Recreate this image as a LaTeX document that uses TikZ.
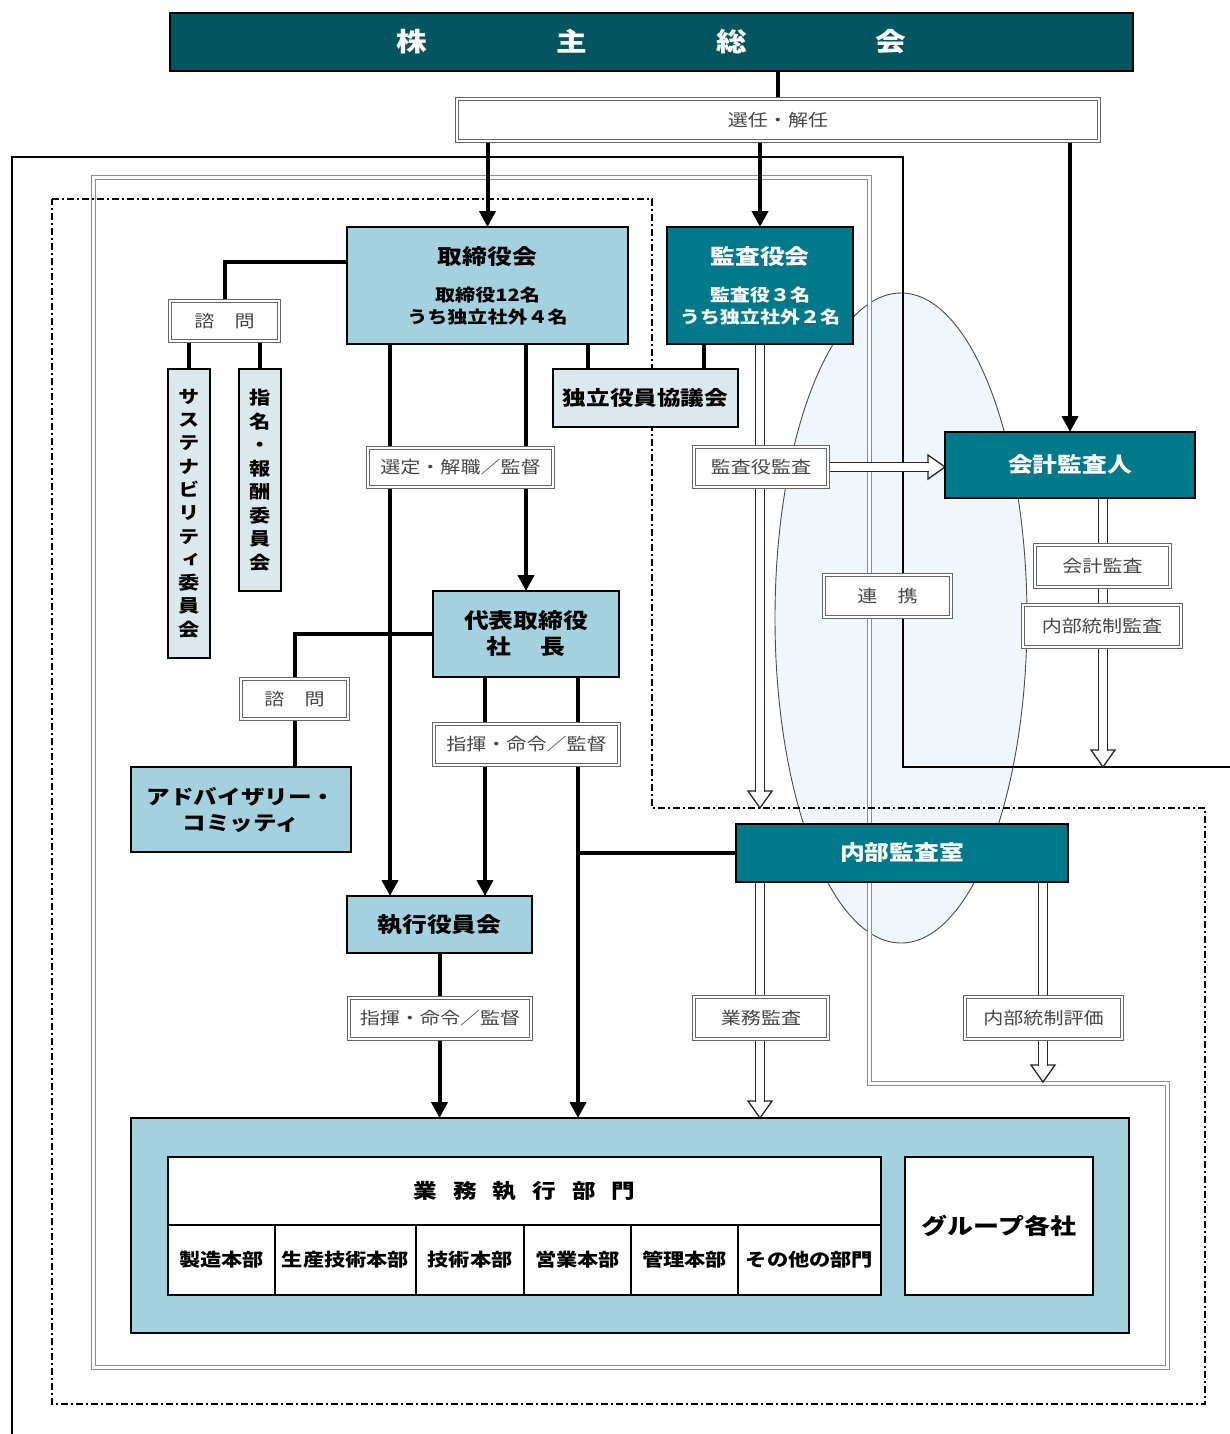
\documentclass[tikz,border=0pt]{standalone}
\usepackage{fontspec}
\setmainfont{Noto Sans CJK JP}[FakeStretch=1.18]
\newfontfamily\vjp{Noto Sans CJK JP}[FakeStretch=1.18,RawFeature=+vert]
\usetikzlibrary{arrows.meta,calc}
\definecolor{kabuC}{RGB}{3,86,95}
\definecolor{tealC}{RGB}{0,122,138}
\definecolor{lbC}{RGB}{164,209,222}
\definecolor{vlC}{RGB}{219,233,239}
\definecolor{elC}{RGB}{240,246,251}
\definecolor{lblTxt}{RGB}{70,70,70}
\newcommand{\fsz}[2]{\fontsize{#1pt}{#2pt}\selectfont}
\pgfdeclarelayer{bg}
\pgfsetlayers{bg,main}
\newcommand{\hdown}[2]{%
  \draw[holhead] ($(#2)+(-12,-17)$) -- (#2) -- ($(#2)+(12,-17)$) -- cycle;
  \draw[hol] (#1) -- ($(#2)+(0,-16)$);}
\newcommand{\hright}[2]{%
  \draw[holhead] ($(#2)+(-17,-12)$) -- (#2) -- ($(#2)+(-17,12)$) -- cycle;
  \draw[hol] (#1) -- ($(#2)+(-16,0)$);}
\begin{document}
\begin{tikzpicture}[x=1pt,y=-1pt,
  box/.style={draw=black, line width=1.8pt, inner sep=0pt, outer sep=0pt, align=center, font=\bfseries\fsz{21}{26}},
  lbl/.style={draw=black!60, line width=1pt, double=white, double distance=2.6pt, fill=white, inner sep=0pt, outer sep=0pt, text=lblTxt, align=center, font=\fsz{17}{20}},
  conn/.style={line width=4pt},
  arr/.style={conn, -{Triangle[length=16pt,width=16pt]}},
  hol/.style={draw=black!85, line width=1.3pt, double=white, double distance=7.5pt},
  holhead/.style={draw=black!85, line width=1.3pt, fill=white, line join=miter},
  frameA/.style={line width=1.8pt},
  frameB/.style={draw=black!45, line width=1pt, double=white, double distance=3pt},
  frameC/.style={line width=1.8pt, dash pattern=on 7pt off 3pt on 2pt off 3pt}
]
\useasboundingbox (0,0) rectangle (1230,1434);

% ---------- x references ----------
\coordinate (xa) at (390,0);
\coordinate (xb) at (588,0);
\coordinate (xc) at (704,0);
\coordinate (xd) at (485,0);
\coordinate (xe) at (578,0);
\coordinate (xf) at (760,0);
\coordinate (xg) at (1103,0);
\coordinate (xh) at (1043,0);
\coordinate (ya) at (0,262);

% ---------- boxes ----------
\node[box, fill=kabuC, text=white, minimum width=963pt, minimum height=58pt, font=\bfseries\fsz{26}{30}] (kabu) at (651.5,42)
  {株\hspace{129pt}主\hspace{129pt}総\hspace{129pt}会};
\node[lbl, minimum width=642pt, minimum height=42pt] (senin) at (778,120) {選任・解任};

\node[box, fill=lbC, minimum width=281pt, minimum height=117pt, font=\bfseries\fsz{17}{22}] (tori) at (487.5,285.5)
  {{\fsz{21}{24}取締役会}\\[15pt]取締役12名\\うち独立社外４名};
\node[box, fill=tealC, text=white, minimum width=186pt, minimum height=117pt, font=\bfseries\fsz{17}{22}] (kansakai) at (760,285.5)
  {{\fsz{21}{24}監査役会}\\[15pt]監査役３名\\うち独立社外２名};
\node[box, fill=vlC, minimum width=185pt, minimum height=58pt, font=\bfseries\fsz{20}{24}] (dokuritsu) at (645.5,398) {独立役員協議会};

\node[lbl, minimum width=109pt, minimum height=40pt] (shimon1) at (224.5,321) {諮　問};
\node[box, fill=vlC, minimum width=42pt, minimum height=289pt, font=\bfseries\vjp\fsz{18}{23.3}] (sustain) at (189,513.5)
  {サ\\ス\\テ\\ナ\\ビ\\リ\\テ\\ィ\\委\\員\\会};
\node[box, fill=vlC, minimum width=42pt, minimum height=222pt, font=\bfseries\vjp\fsz{18}{23.5}] (shimei) at (260,480)
  {指\\名\\・\\報\\酬\\委\\員\\会};

\node[lbl, minimum width=185pt, minimum height=39pt] (sentei) at (460.5,467.5) {選定・解職／監督};
\node[box, fill=lbC, minimum width=186pt, minimum height=86pt] (daihyo) at (526,634) {代表取締役\\社\hspace{30pt}長};
\node[lbl, minimum width=107pt, minimum height=40pt] (shimon2) at (294.5,699) {諮　問};
\node[box, fill=lbC, minimum width=220pt, minimum height=85pt, font=\bfseries\fsz{20}{26}] (advisory) at (241,809.5) {アドバイザリー・\\コミッティ};
\node[lbl, minimum width=185pt, minimum height=41pt] (shiki1) at (526.5,744.5) {指揮・命令／監督};
\node[box, fill=lbC, minimum width=185pt, minimum height=57pt] (shikko) at (439.5,924.5) {執行役員会};
\node[lbl, minimum width=182pt, minimum height=41pt] (shiki2) at (440,1018.5) {指揮・命令／監督};

\node[lbl, minimum width=134pt, minimum height=40pt] (kansalbl) at (761,467) {監査役監査};
\node[box, fill=tealC, text=white, minimum width=250pt, minimum height=66pt] (kaikei) at (1070,465) {会計監査人};
\node[lbl, minimum width=135pt, minimum height=42pt] (kaikeilbl) at (1102.5,566) {会計監査};
\node[lbl, minimum width=158pt, minimum height=42pt] (naibulbl) at (1102,626) {内部統制監査};
\node[lbl, minimum width=127pt, minimum height=42pt] (renkei) at (887.5,596) {連　携};
\node[box, fill=tealC, text=white, minimum width=332pt, minimum height=58pt] (naibu) at (902,853) {内部監査室};
\node[lbl, minimum width=134pt, minimum height=42pt] (gyomulbl) at (761,1018) {業務監査};
\node[lbl, minimum width=157pt, minimum height=42pt] (hyokalbl) at (1043.5,1018) {内部統制評価};

\node[box, fill=lbC, minimum width=998pt, minimum height=215pt] (big) at (630,1225.5) {};
\node[box, fill=white, minimum width=713pt, minimum height=68pt, font=\bfseries\fsz{20}{24}] (gyomu) at (524.5,1191)
  {業\hspace{16pt}務\hspace{16pt}執\hspace{16pt}行\hspace{16pt}部\hspace{16pt}門};
\begin{scope}[every node/.style={box, fill=white, minimum height=70pt, font=\bfseries\fsz{18}{22}}]
\node[minimum width=107pt] (c1) at (221.5,1260) {製造本部};
\node[minimum width=141pt] (c2) at (345.5,1260) {生産技術本部};
\node[minimum width=108pt] (c3) at (470,1260) {技術本部};
\node[minimum width=107pt] (c4) at (577.5,1260) {営業本部};
\node[minimum width=107pt] (c5) at (684.5,1260) {管理本部};
\node[minimum width=143pt] (c6) at (809.5,1260) {その他の部門};
\end{scope}
\node[box, fill=white, minimum width=188pt, minimum height=138pt, font=\bfseries\fsz{22}{26}] (group) at (999,1226) {グループ各社};

% ---------- tips ----------
\coordinate (t1) at (760,808);
\coordinate (t2) at (1103,767);
\coordinate (t3) at (1043,1082);
\coordinate (t4) at (big.north -| xf);

% ---------- background ----------
\begin{pgfonlayer}{bg}
\draw[fill=elC, draw=black!70, line width=0.9pt] (901,618) ellipse [x radius=126, y radius=325];
\draw[frameA] (12,1434) -- (12,157) -- (903,157) -- (903,767) -- (1230,767);
\draw[frameB] (93,178) -- (869,178) -- (869,1083) -- (1167,1083) -- (1167,1367) -- (93,1367) -- cycle;
\draw[frameC] (52,199) -- (652,199) -- (652,808) -- (1205,808) -- (1205,1404) -- (52,1404) -- cycle;

% connectors
\draw[conn] (kabu.south -| senin.north) -- (senin.north);
\draw[arr] (senin.south -| tori.north) -- (tori.north);
\draw[arr] (senin.south -| kansakai.north) -- (kansakai.north);
\draw[arr] (senin.south -| kaikei.north) -- (kaikei.north);

\draw[conn] (tori.west |- ya) -| (shimon1.north);
\draw[conn] (shimon1.south -| sustain.north) -- (sustain.north);
\draw[conn] (shimon1.south -| shimei.north) -- (shimei.north);
\draw[conn] (tori.south -| xb) -- (dokuritsu.north -| xb);
\draw[conn] (kansakai.south -| xc) -- (dokuritsu.north -| xc);
\draw[arr] (tori.south -| xa) -- (shikko.north -| xa);
\draw[arr] (tori.south -| daihyo.north) -- (daihyo.north);

\draw[conn] (daihyo.west) -| (shimon2.north);
\draw[conn] (shimon2.south) -- (shimon2.south |- advisory.north);
\draw[arr] (daihyo.south -| xd) -- (shikko.north -| xd);
\draw[arr] (daihyo.south -| xe) -- (big.north -| xe);
\draw[conn] (naibu.west) -- (naibu.west -| xe);
\draw[arr] (shikko.south) -- (shikko.south |- big.north);

% hollow arrows
\hdown{kansakai.south -| xf}{t1}
\hright{kansalbl.east}{kansalbl.east -| kaikei.west}
\hdown{kaikei.south -| xg}{t2}
\hdown{naibu.south -| xf}{t4}
\hdown{naibu.south -| xh}{t3}
\end{pgfonlayer}
\end{tikzpicture}
\end{document}
